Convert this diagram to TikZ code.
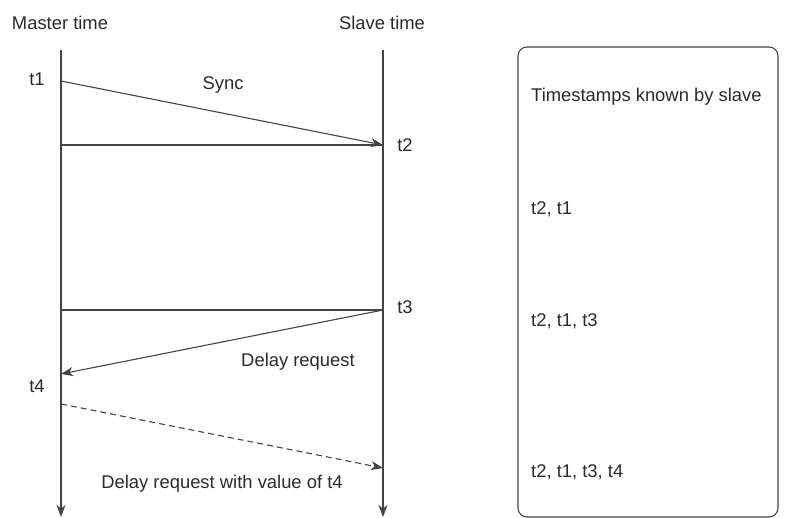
\documentclass[tikz,border=0pt]{standalone}
\usepackage{fontspec}
\setmainfont{Liberation Sans}
\usetikzlibrary{arrows.meta}
\definecolor{ln}{HTML}{444444}
\definecolor{tx}{HTML}{2A2A2A}
\begin{document}
\begin{tikzpicture}[x=1pt,y=-1pt,
  lbl/.style={text=tx,font=\fontsize{18.4}{20}\selectfont,inner sep=0pt},
  lft/.style={lbl,anchor=west},
  wire/.style={draw=ln,line width=1.1pt},
  arr/.style={wire,-{Stealth[length=12pt,width=9pt,inset=3.5pt]}}]
\useasboundingbox (0,0) rectangle (786,518);
% lifelines
\coordinate (mtop) at (61,50);
\coordinate (mbot) at (61,517);
\coordinate (stop) at (383,50);
\coordinate (sbot) at (383,517);
\draw[arr] (mtop) -- (mbot);
\draw[arr] (stop) -- (sbot);
\node[lbl] (mt) at (60,23) {Master time};
\node[lbl] (st) at (382,23) {Slave time};
% events
\coordinate (m1) at (61,81);
\coordinate (s2) at (383,145);
\coordinate (m2) at (61,145);
\coordinate (s3) at (383,310);
\coordinate (m3) at (61,310);
\coordinate (m4) at (61,374);
\coordinate (m5) at (61,404);
\coordinate (s5) at (383,468);
\node[lbl] (t1) at (37,79) {t1};
\node[lbl] (t2) at (405,145) {t2};
\node[lbl] (t3) at (405,307) {t3};
\node[lbl] (t4) at (37,386) {t4};
\draw[arr] (m1) -- (s2);
\draw[wire] (m2) -- (s2);
\draw[wire] (m3) -- (s3);
\draw[arr] (s3) -- (m4);
\draw[arr,dashed,dash pattern=on 6pt off 4pt] (m5) -- (s5);
\node[lbl] (sync) at (223,85) {Sync};
\node[lbl] (dreq) at (298,362) {Delay request};
\node[lbl] (dval) at (222,484) {Delay request with value of t4};
% box
\draw[wire,rounded corners=9pt] (518,47) rectangle (778,517);
\node[lft] (k0) at (531,97) {Timestamps known by slave};
\node[lft] (k1) at (531,209) {t2, t1};
\node[lft] (k2) at (531,321) {t2, t1, t3};
\node[lft] (k3) at (531,472) {t2, t1, t3, t4};
\end{tikzpicture}
\end{document}
